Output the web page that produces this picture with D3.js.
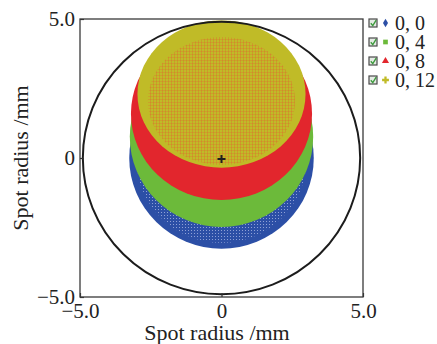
<!DOCTYPE html>
<html>
<head>
<meta charset="utf-8">
<script src="https://cdn.jsdelivr.net/npm/d3@7"></script>
<style>
  body { margin: 0; background: #fff; }
  svg text { font-family: "Liberation Serif", "DejaVu Serif", serif; fill: #222; }
</style>
</head>
<body>
<div id="chart"></div>
<script>
// field angles (deg) shown in the legend
const fieldLabels = ["0, 0", "0, 4", "0, 8", "0, 12"];
// spot outline, in mm
const spotCentreY = [0.0, 0.76, 1.59, 2.3];
const spotRadiusX = [3.26, 3.24, 3.2, 2.97];
const spotRadiusY = [3.26, 3.24, 3.1, 2.65];
// sparse (textured) inner part of the blue and yellow spots, mm
const blueCore = [0.0, -0.05, 3.0, 3.0];      // cx, cy, rx, ry
const yellowCore = [0.0, 2.05, 2.6, 2.3];
const detectorRadius = 4.9;   // black circle
const chiefRay = [0, 0];
const tickValues = [-5, 0, 5];
const tickLabels = ["\u22125.0", "0", "5.0"];

const colors = ["#2c4fa6", "#6cba3a", "#e2262d", "#c0bb27"];
const symbols = [d3.symbolDiamond, d3.symbolSquare, d3.symbolTriangle, d3.symbolCross];

const W = 437, H = 344;
const margin = {left: 80, top: 19, right: 74, bottom: 47};
const width = W - margin.left - margin.right;
const height = H - margin.top - margin.bottom;

const svg = d3.select('#chart').append('svg')
  .attr('width', W).attr('height', H);

const x = d3.scaleLinear().domain([-5, 5]).range([margin.left, margin.left + width]);
const y = d3.scaleLinear().domain([-5, 5]).range([margin.top + height, margin.top]);
const rx = r => x(r) - x(0);
const ry = r => y(0) - y(r);

const defs = svg.append('defs');
// textures for the sparse ray grid
const bp = defs.append('pattern').attr('id', 'bluegrid')
  .attr('width', 3).attr('height', 3).attr('patternUnits', 'userSpaceOnUse');
bp.append('rect').attr('width', 3).attr('height', 3).attr('fill', colors[0]);
bp.append('rect').attr('x', 2).attr('y', 2).attr('width', 1).attr('height', 1).attr('fill', '#8ea0d6');

const yp = defs.append('pattern').attr('id', 'yellowgrid')
  .attr('width', 3).attr('height', 3).attr('patternUnits', 'userSpaceOnUse');
yp.append('rect').attr('width', 3).attr('height', 3).attr('fill', colors[3]);
yp.append('rect').attr('x', 0).attr('width', 1).attr('height', 3).attr('fill', '#e2602e').attr('opacity', 0.36);
yp.append('rect').attr('y', 0).attr('width', 3).attr('height', 1).attr('fill', '#e2602e').attr('opacity', 0.28);

const spots = svg.append('g');
fieldLabels.forEach((f, i) => {
  spots.append('ellipse')
    .attr('class', 'spot')
    .attr('cx', x(0))
    .attr('cy', y(spotCentreY[i]))
    .attr('rx', rx(spotRadiusX[i]))
    .attr('ry', ry(spotRadiusY[i]))
    .attr('fill', colors[i]);
  if (i === 0) {
    spots.append('ellipse')
      .attr('cx', x(blueCore[0])).attr('cy', y(blueCore[1]))
      .attr('rx', rx(blueCore[2])).attr('ry', ry(blueCore[3]))
      .attr('fill', 'url(#bluegrid)');
  }
});
spots.append('ellipse')
  .attr('cx', x(yellowCore[0])).attr('cy', y(yellowCore[1]))
  .attr('rx', rx(yellowCore[2])).attr('ry', ry(yellowCore[3]))
  .attr('fill', 'url(#yellowgrid)');

// detector circle
svg.append('ellipse')
  .attr('cx', x(0)).attr('cy', y(0))
  .attr('rx', rx(detectorRadius)).attr('ry', ry(detectorRadius))
  .attr('fill', 'none').attr('stroke', '#1c1c1c').attr('stroke-width', 2);

// chief ray mark
svg.append('path')
  .attr('d', 'M-4,0H4M0,-4V4')
  .attr('transform', `translate(${x(chiefRay[0])}, ${y(chiefRay[1]) + 1})`)
  .attr('stroke', '#1f1f1f').attr('stroke-width', 2);

// axes
const xAxis = d3.axisBottom(x).tickValues(tickValues)
  .tickFormat((d, i) => tickLabels[i]).tickSize(-4).tickPadding(6);
const yAxis = d3.axisLeft(y).tickValues(tickValues)
  .tickFormat((d, i) => tickLabels[i]).tickSize(-4).tickPadding(5);

const gx = svg.append('g')
  .attr('transform', `translate(0, ${margin.top + height})`)
  .call(xAxis);
const gy = svg.append('g')
  .attr('transform', `translate(${margin.left}, 0)`)
  .call(yAxis);
[gx, gy].forEach(g => {
  g.select('.domain').remove();
  g.selectAll('line').attr('stroke', '#333').attr('stroke-width', 1.2);
  g.selectAll('text').attr('font-size', 21).attr('font-family', null).attr('fill', '#222');
});

svg.append('rect')
  .attr('x', margin.left).attr('y', margin.top)
  .attr('width', width).attr('height', height)
  .attr('fill', 'none').attr('stroke', '#3a3a3a').attr('stroke-width', 1.3);

svg.append('text')
  .attr('x', 217).attr('y', 340)
  .attr('text-anchor', 'middle').attr('font-size', 22)
  .text('Spot radius /mm');
svg.append('text')
  .attr('transform', `translate(28, ${y(0)}) rotate(-90)`)
  .attr('text-anchor', 'middle').attr('font-size', 22)
  .text('Spot radius /mm');

// legend
const legend = svg.append('g');
const rows = legend.selectAll('g')
  .data(fieldLabels)
  .enter()
  .append('g')
  .attr('transform', (d, i) => `translate(0, ${23 + i * 19})`);
rows.append('rect')
  .attr('x', 369).attr('y', -4).attr('width', 8).attr('height', 8)
  .attr('fill', '#e4ebe4').attr('stroke', '#4a4a4a').attr('stroke-width', 1.2);
rows.append('path')
  .attr('d', 'M370.8,0.2L372.8,2.6L376.2,-2.8')
  .attr('fill', 'none').attr('stroke', '#3c9a3c').attr('stroke-width', 1.4);
rows.append('path')
  .attr('d', (d, i) => d3.symbol().type(symbols[i]).size(i === 3 ? 26 : 22)())
  .attr('transform', 'translate(385.5, 0)')
  .attr('fill', (d, i) => colors[i]);
rows.append('text')
  .attr('x', 395).attr('y', 7)
  .attr('font-size', 20)
  .text(d => d);
</script>
</body>
</html>
